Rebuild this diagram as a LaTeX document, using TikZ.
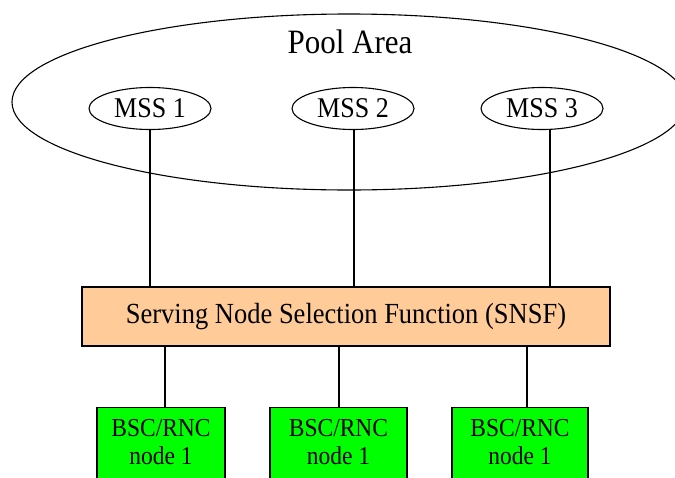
\documentclass[tikz,border=0pt]{standalone}
\usepackage{fontspec}
\setmainfont{Liberation Serif}
\usetikzlibrary{shapes.geometric}

\definecolor{snsfpeach}{HTML}{FFCC99}
\definecolor{bscgreen}{HTML}{00FF00}

% taller glyphs, as in the drawing
\newcommand{\tallText}[1]{\scalebox{1}[1.1]{#1}}

\tikzset{
  pool/.style={draw, ellipse, line width=1.1pt, minimum width=674pt, minimum height=176pt, inner sep=0pt},
  mss/.style={draw, ellipse, line width=1.1pt, minimum width=122pt, minimum height=42pt, inner sep=0pt,
    font=\fontsize{26}{30}\selectfont},
  snsf/.style={draw, fill=snsfpeach, line width=1.1pt, minimum width=528pt, minimum height=59pt, inner sep=0pt,
    font=\fontsize{26.5}{30}\selectfont},
  bsc/.style={draw, fill=bscgreen, line width=1.1pt, anchor=north, align=center, inner xsep=0pt, inner ysep=12pt,
    text depth=30pt, font=\fontsize{23.5}{28}\selectfont},
  link/.style={line width=1.1pt}
}

\begin{document}
\begin{tikzpicture}[x=1pt,y=-1pt]
  \useasboundingbox (0,0) rectangle (675,477);
  \clip (0,0) rectangle (675,477);

  \node[pool] (POOL) at (349,102) {};
  \node[anchor=base, font=\fontsize{31}{36}\selectfont] (PA) at (350,53) {\tallText{Pool Area}};

  \node[mss] (MSS1) at (150,108.5) {\tallText{MSS 1}};
  \node[mss] (MSS2) at (353,108.5) {\tallText{MSS 2}};
  \node[mss] (MSS3) at (542,108.5) {\tallText{MSS 3}};

  \node[snsf] (SNSF) at (346,316.5) {\tallText{Serving Node Selection Function (SNSF)}};

  \node[bsc, minimum width=128pt] (BSC1) at (161,407)   {\tallText{BSC/RNC}\\\tallText{node 1}};
  \node[bsc, minimum width=137pt] (BSC2) at (338.5,407) {\tallText{BSC/RNC}\\\tallText{node 1}};
  \node[bsc, minimum width=136pt] (BSC3) at (520,407)   {\tallText{BSC/RNC}\\\tallText{node 1}};

  \draw[link] (MSS1.south) -- (MSS1.south |- SNSF.north);
  \draw[link] ([xshift=1pt]MSS2.south) -- ([xshift=1pt]MSS2.south |- SNSF.north);
  \draw[link] ([xshift=8pt]MSS3.south) -- ([xshift=8pt]MSS3.south |- SNSF.north);

  \draw[link] ([xshift=4pt]BSC1.north |- SNSF.south) -- ([xshift=4pt]BSC1.north);
  \draw[link] ([xshift=0.5pt]BSC2.north |- SNSF.south) -- ([xshift=0.5pt]BSC2.north);
  \draw[link] ([xshift=7pt]BSC3.north |- SNSF.south) -- ([xshift=7pt]BSC3.north);
\end{tikzpicture}
\end{document}
